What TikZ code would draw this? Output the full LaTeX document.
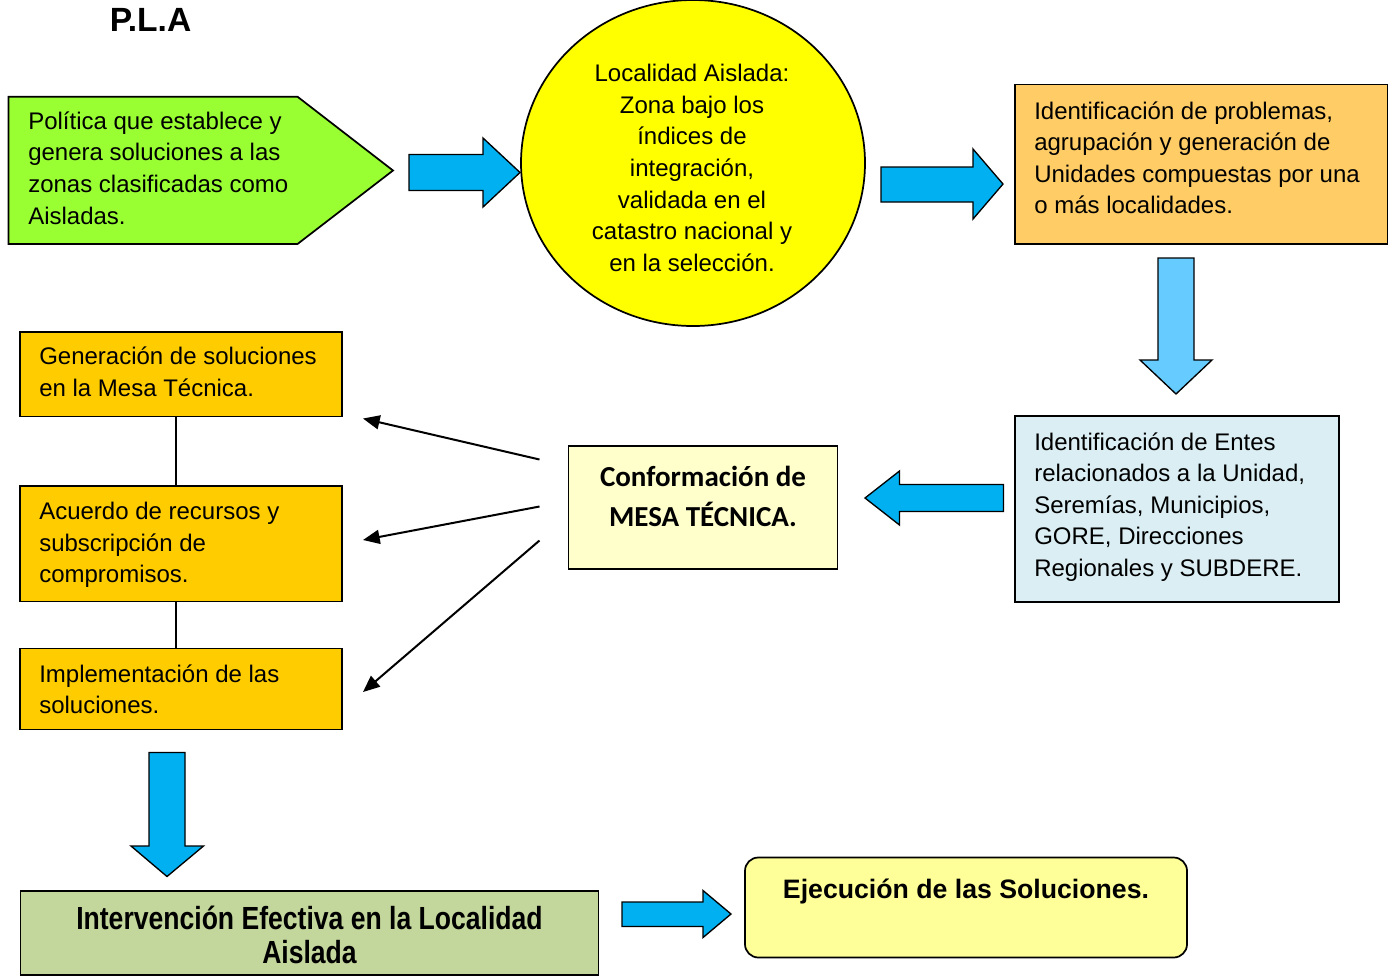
\documentclass[tikz,border=0pt]{standalone}
\usepackage{fontspec}
\setmainfont{Liberation Sans}
\newfontfamily\calibri{Carlito}
\newfontfamily\narrowfont[FakeStretch=0.83]{Liberation Sans}
\usetikzlibrary{shapes.geometric,fit,arrows.meta}
\definecolor{plagreen}{HTML}{99FF33}
\definecolor{locyellow}{HTML}{FFFF00}
\definecolor{identorange}{HTML}{FFCC66}
\definecolor{entesblue}{HTML}{DAEEF3}
\definecolor{confyellow}{HTML}{FFFFCC}
\definecolor{goldbox}{HTML}{FFCC00}
\definecolor{intervgreen}{HTML}{C3D69B}
\definecolor{ejecyellow}{HTML}{FFFF99}
\definecolor{arrowblue}{HTML}{00B0F0}
\definecolor{arrowlight}{HTML}{66CCFF}
\tikzset{
  box/.style={draw=black, line width=1.3pt, inner sep=0pt},
  txt/.style={inner sep=0pt, font=\fontsize{18}{23.7}\selectfont},
  blockarrow/.style={draw=black, line width=1pt, fill=arrowblue, line join=miter},
  thinarrow/.style={draw=black, line width=1.5pt, -{Triangle[length=12.5pt,width=10.5pt]}},
  link/.style={draw=black, line width=1.2pt}
}
\begin{document}
\begin{tikzpicture}[x=0.75pt,y=-0.75pt]
\useasboundingbox (0,0) rectangle (1394,976);

% title
\node[inner sep=0pt, anchor=base west, font=\bfseries\fontsize{25.2}{28}\selectfont] (title) at (109.5,31.5) {P.L.A};

% pentagon
\draw[box, fill=plagreen] (8.5,96.7) coordinate (pla-nw) -- (297.5,96.7) -- (393,170.5) coordinate (pla-tip) -- (297.5,244) -- (8.5,244) -- cycle;
\node[txt, anchor=base west] (pla-t) at (28,129.3) {\begin{tabular}[t]{@{}l@{}}Política que establece y\\genera soluciones a las\\zonas clasificadas como\\Aisladas.\end{tabular}};

% ellipse
\node[ellipse, box, fill=locyellow, minimum width=258pt, minimum height=244.5pt] (loc) at (693,163) {};
\node[txt, anchor=base] (loc-t) at (692,81.7) {\begin{tabular}[t]{@{}c@{}}Localidad Aislada:\\Zona bajo los\\índices de\\integración,\\validada en el\\catastro nacional y\\en la selección.\end{tabular}};

% orange box
\node[box, fill=identorange, fit={(1015,84.5) (1387.5,244)}] (ident) {};
\node[txt, anchor=base west] (ident-t) at (1034,119) {\begin{tabular}[t]{@{}l@{}}Identificación de problemas,\\agrupación y generación de\\Unidades compuestas por una\\o más localidades.\end{tabular}};

% light blue box
\node[box, fill=entesblue, fit={(1015,416) (1339,602)}] (entes) {};
\node[txt, anchor=base west] (entes-t) at (1034,450) {\begin{tabular}[t]{@{}l@{}}Identificación de Entes\\relacionados a la Unidad,\\Seremías, Municipios,\\GORE, Direcciones\\Regionales y SUBDERE.\end{tabular}};

% conformacion
\node[box, fill=confyellow, fit={(568.5,446) (837.5,569)}] (conf) {};
\node[inner sep=0pt, anchor=base, font=\calibri\bfseries\fontsize{21.75}{30}\selectfont] (conf-t) at (703,486) {\begin{tabular}[t]{@{}c@{}}Conformación de\\MESA TÉCNICA.\end{tabular}};

% gold boxes
\node[box, fill=goldbox, fit={(20,332) (342,416.5)}] (gen) {};
\node[txt, anchor=base west] (gen-t) at (39,364.5) {\begin{tabular}[t]{@{}l@{}}Generación de soluciones\\en la Mesa Técnica.\end{tabular}};
\node[box, fill=goldbox, fit={(20,486) (342,601.5)}] (acu) {};
\node[txt, anchor=base west] (acu-t) at (39,519.5) {\begin{tabular}[t]{@{}l@{}}Acuerdo de recursos y\\subscripción de\\compromisos.\end{tabular}};
\node[box, fill=goldbox, fit={(20,648.5) (342,729.5)}] (imp) {};
\node[txt, anchor=base west] (imp-t) at (39,682) {\begin{tabular}[t]{@{}l@{}}Implementación de las\\soluciones.\end{tabular}};

\draw[link] (gen.south -| 175.7,0) -- (acu.north -| 175.7,0);
\draw[link] (acu.south -| 175.7,0) -- (imp.north -| 175.7,0);

% intervencion
\node[box, fill=intervgreen, fit={(20.5,891) (598.5,975)}] (interv) {};
\node[inner sep=0pt, anchor=base, font=\narrowfont\bfseries\fontsize{24}{26}\selectfont] (interv-t) at (309.5,929) {\begin{tabular}[t]{@{}c@{}}Intervención Efectiva en la Localidad\\Aislada\end{tabular}};

% ejecucion
\node[box, fill=ejecyellow, rounded corners=10pt, fit={(745,857.5) (1187,957.5)}] (ejec) {};
\node[inner sep=0pt, anchor=base, font=\bfseries\fontsize{20}{24}\selectfont] (ejec-t) at (966,898.5) {Ejecución de las Soluciones.};

% block arrows
\draw[blockarrow] (409,154.5) -- (483,154.5) -- (483,138) -- (520,172.5) -- (483,207) -- (483,190.5) -- (409,190.5) -- cycle;
\draw[blockarrow] (881,167) -- (973,167) -- (973,149) -- (1003,184) -- (973,219) -- (973,202) -- (881,202) -- cycle;
\draw[blockarrow, fill=arrowlight] (1158,258) -- (1194,258) -- (1194,360) -- (1212,360) -- (1176,394) -- (1140,360) -- (1158,360) -- cycle;
\draw[blockarrow] (1003.5,484.5) -- (899.5,484.5) -- (899.5,471) -- (865,498) -- (899.5,525) -- (899.5,511.5) -- (1003.5,511.5) -- cycle;
\draw[blockarrow] (149,752.5) -- (185,752.5) -- (185,846) -- (203.5,846) -- (167,876.5) -- (131,846) -- (149,846) -- cycle;
\draw[blockarrow] (622,902) -- (703,902) -- (703,890.5) -- (731,914) -- (703,937.5) -- (703,926.5) -- (622,926.5) -- cycle;

% thin arrows
\coordinate (t1s) at (539.5,459.5);
\coordinate (t1e) at (363,418.5);
\coordinate (t2s) at (539.5,506.5);
\coordinate (t2e) at (363,540);
\coordinate (t3s) at (539.5,540.5);
\coordinate (t3e) at (363,692);
\draw[thinarrow] (t1s) -- (t1e);
\draw[thinarrow] (t2s) -- (t2e);
\draw[thinarrow] (t3s) -- (t3e);
\end{tikzpicture}
\end{document}
